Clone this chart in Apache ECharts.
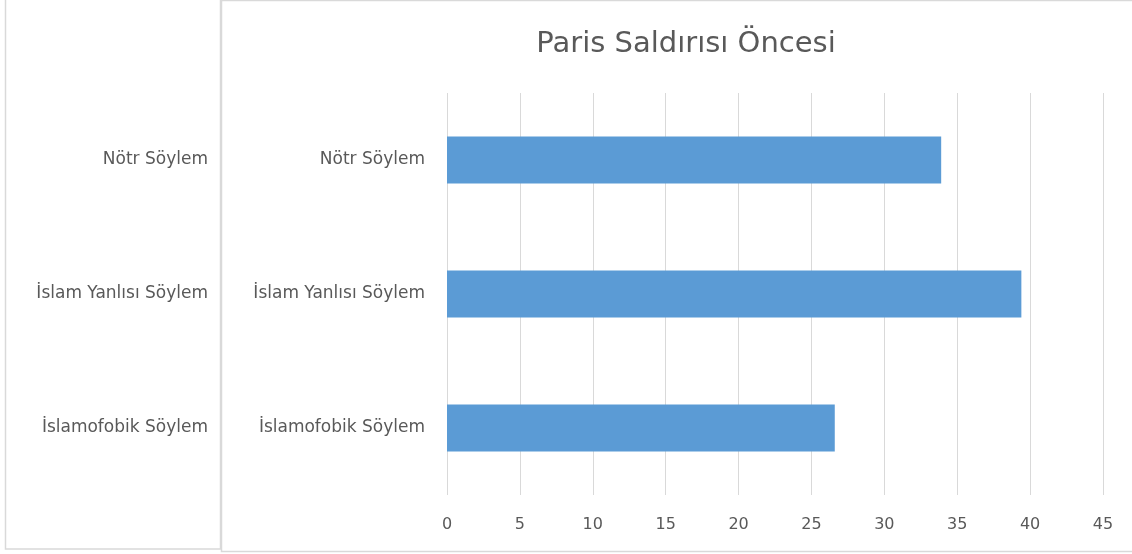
<!DOCTYPE html>
<html>
<head>
<meta charset="utf-8">
<script src="https://cdn.jsdelivr.net/npm/echarts@6/dist/echarts.min.js"></script>
<style>
html, body { margin: 0; padding: 0; background: #fff; }
#main { width: 1132px; height: 554px; }
</style>
</head>
<body>
<div id="main"></div>
<script type="text/javascript">
	// bottom to top, as the category axis draws them
	var categories = ['İslamofobik Söylem', 'İslam Yanlısı Söylem', 'Nötr Söylem'];
	var values = [26.6, 39.4, 33.9];
	var xTicks = [0, 5, 10, 15, 20, 25, 30, 35, 40, 45];

	var textColor = '#595959';
	var font = 'DejaVu Sans';

	var myChart = echarts.init(document.getElementById('main'));
	myChart.setOption({
		animation: false,
		title: {
			text: 'Paris Saldırısı Öncesi',
			left: 681,
			textAlign: 'center',
			top: 25,
			textStyle: { color: textColor, fontSize: 29, fontWeight: 'normal', fontFamily: font }
		},
		// two panels: the cut-off one on the left and the chart area
		graphic: [
			{ type: 'rect', shape: { x: 5.5, y: -2, width: 215, height: 551 }, style: { fill: 'none', stroke: '#d9d9d9', lineWidth: 1.5 } },
			{ type: 'rect', shape: { x: 221.5, y: 0.5, width: 920, height: 551 }, style: { fill: 'none', stroke: '#d9d9d9', lineWidth: 1.5 } }
		],
		grid: [
			{ left: 447, right: 29, top: 93, bottom: 59 },
			{ left: 214, width: 1, top: 93, bottom: 59 }
		],
		xAxis: [{
			gridIndex: 0,
			type: 'value',
			min: 0,
			max: 45,
			interval: 5,
			axisLine: { show: false },
			axisTick: { show: false },
			splitLine: { show: true, lineStyle: { color: '#d9d9d9', width: 1 } },
			axisLabel: {
				color: textColor, fontSize: 16, fontFamily: font, margin: 22,
				formatter: function (v) { return xTicks.indexOf(v) >= 0 ? String(v) : ''; }
			}
		}, {
			gridIndex: 1,
			type: 'value',
			show: false
		}],
		yAxis: [{
			gridIndex: 0,
			type: 'category',
			data: categories,
			axisLine: { show: false },
			axisTick: { show: false },
			axisLabel: { color: textColor, fontSize: 17, fontFamily: font, margin: 22 }
		}, {
			gridIndex: 1,
			type: 'category',
			data: categories,
			axisLine: { show: false },
			axisTick: { show: false },
			axisLabel: { color: textColor, fontSize: 17, fontFamily: font, margin: 6 }
		}],
		series: [{
			name: 'Paris Saldırısı Öncesi',
			type: 'bar',
			xAxisIndex: 0,
			yAxisIndex: 0,
			data: values,
			barCategoryGap: '65%',
			itemStyle: { color: '#5b9bd5' }
		}]
	});
	window.onresize = myChart.resize;
</script>
</body>
</html>
